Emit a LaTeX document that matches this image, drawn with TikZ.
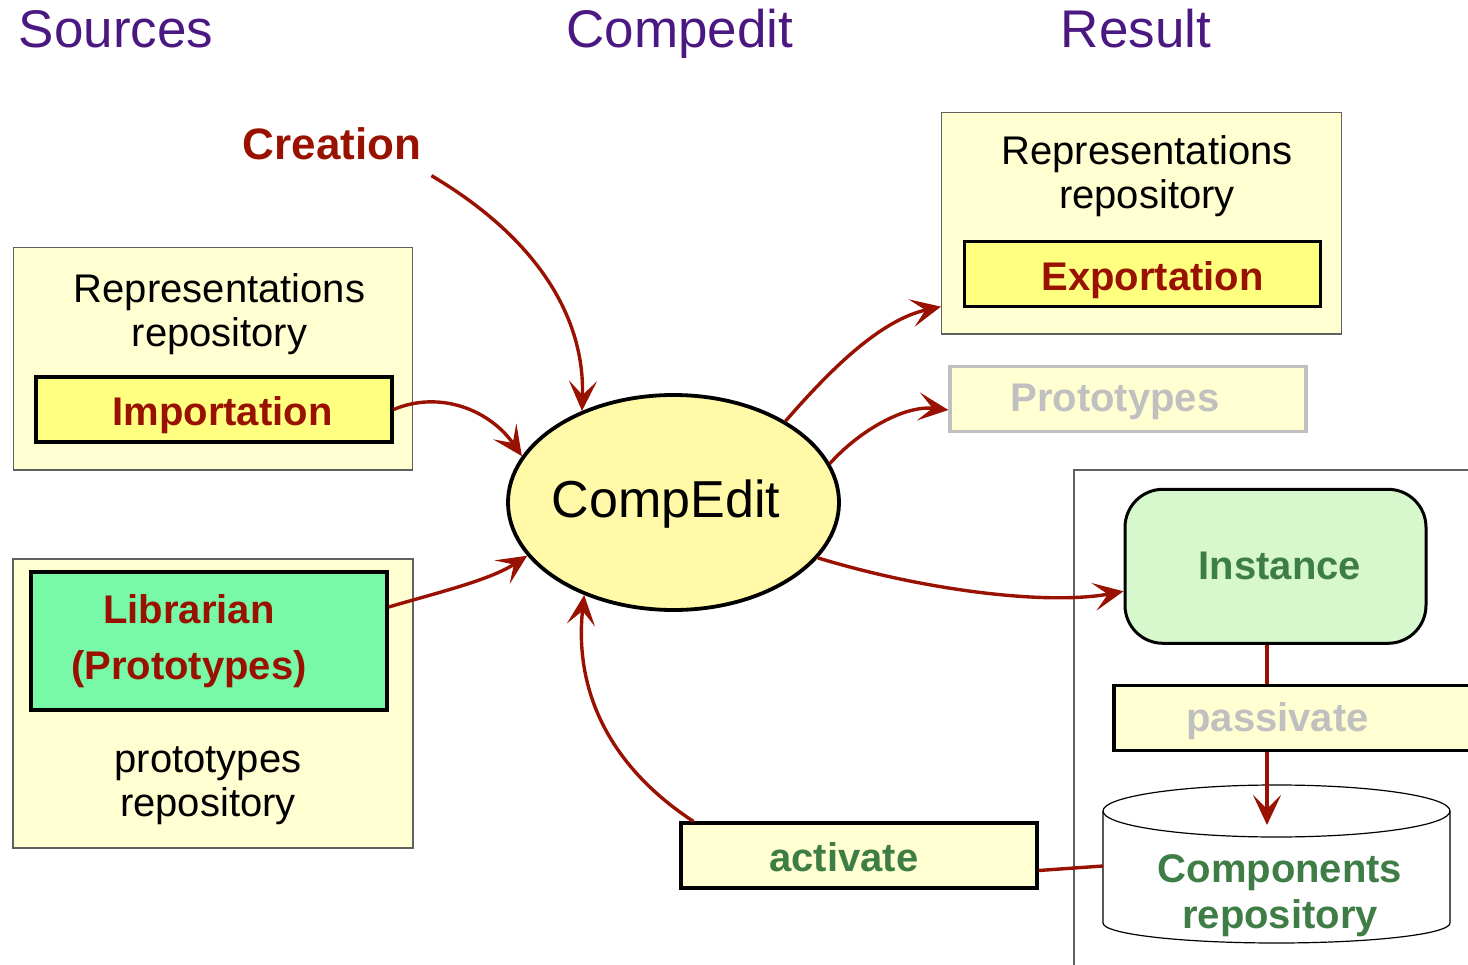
\documentclass[tikz,border=0pt]{standalone}
\usepackage{fontspec}
\setmainfont{Liberation Sans}
\usetikzlibrary{arrows.meta,shapes.geometric}
\definecolor{darkred}{HTML}{991100}
\definecolor{titlepurple}{HTML}{4B1882}
\definecolor{paleyellow}{HTML}{FFFFD2}
\definecolor{importyellow}{HTML}{FFFF80}
\definecolor{libgreen}{HTML}{77F9A7}
\definecolor{instgreen}{HTML}{D6F8CC}
\definecolor{greentext}{HTML}{3E7D45}
\definecolor{graytext}{HTML}{C0C0C0}
\definecolor{ellfill}{HTML}{FFF9A8}
\definecolor{framegray}{HTML}{606060}
\begin{document}
\begin{tikzpicture}[x=1pt,y=-1pt,
  bigbox/.style={draw=framegray, line width=1.4pt, fill=paleyellow, inner sep=0pt},
  innerbox/.style={draw=black, line width=3.3pt, inner sep=0pt, minimum width=356pt, minimum height=65pt},
  lbl/.style={inner sep=0pt, font=\fontsize{40}{44}\selectfont, align=center},
  blbl/.style={inner sep=0pt, font=\fontsize{40}{44}\selectfont\bfseries, align=center},
  ttl/.style={inner sep=0pt, font=\fontsize{53}{60}\selectfont, text=titlepurple, anchor=base},
  conn/.style={draw=darkred, line width=3.4pt},
  arr/.style={conn, -{Stealth[length=30pt,width=28pt,inset=14pt]}}
]
\useasboundingbox (0,0) rectangle (1468,965);

% titles
\node[ttl] (tsrc) at (116,48) {Sources};
\node[ttl] (tcmp) at (680,48) {Compedit};
\node[ttl] (tres) at (1136,48) {Result};

% creation
\node[blbl, text=darkred, font=\fontsize{44}{48}\selectfont\bfseries, anchor=base] (cre) at (332,160) {Creation};

% left top box
\node[bigbox, minimum width=399.4pt, minimum height=222.7pt] (lrep) at (213,358.7) {};
\node[lbl] (lreptxt) at (219.5,314) {Representations\\repository};
\node[innerbox, fill=importyellow] (imp) at (214,409.5) {};
\node[blbl, text=darkred, anchor=base] (imptxt) at (222.5,426) {Importation};

% left bottom box
\node[bigbox, minimum width=400pt, minimum height=289pt] (lprot) at (213,703.5) {};
\node[innerbox, fill=libgreen, minimum height=138pt] (lib) at (209,641) {};
\node[blbl, text=darkred, font=\fontsize{40}{56}\selectfont\bfseries] (libtxt) at (189,641) {Librarian\\(Prototypes)};
\node[lbl] (lprottxt) at (208,786) {prototypes\\repository};

% right top box
\node[bigbox, minimum width=400pt, minimum height=221.3pt] (rrep) at (1141.7,223.3) {};
\node[lbl] (rreptxt) at (1147,176) {Representations\\repository};
\node[innerbox, fill=importyellow] (exp) at (1142.5,274) {};
\node[blbl, text=darkred, anchor=base] (exptxt) at (1152.5,291) {Exportation};

% prototypes (grey)
\node[innerbox, draw=graytext, fill=paleyellow] (proto) at (1128,399) {};
\node[blbl, text=graytext, anchor=base] (prototxt) at (1115,412) {Prototypes};

% right frame
\draw[framegray, line width=1.2pt] (1074,965) -- (1074,470) -- (1468,470);

% instance
\node[draw=black, line width=3pt, fill=instgreen, rounded corners=38pt, minimum width=301pt, minimum height=154pt, inner sep=0pt] (inst) at (1275.5,566.3) {};
\node[blbl, text=greentext, anchor=base] (insttxt) at (1280,579) {Instance};

% cylinder
\draw[line width=1.2pt, fill=white] (1103,811) -- (1103,923) arc[start angle=180, end angle=0, x radius=173.5, y radius=20] -- (1450,811) arc[start angle=0, end angle=-180, x radius=173.5, y radius=26] -- cycle;
\draw[line width=1.2pt] (1103,811) arc[start angle=180, end angle=0, x radius=173.5, y radius=26];
\coordinate (cyltop) at (1267,825);
\coordinate (cylleft) at (1103,866);
\node[blbl, text=greentext, font=\fontsize{40}{46}\selectfont\bfseries] (cyltxt) at (1280,896) {Components\\repository};

% instance -> cylinder (behind passivate)
\draw[arr, line width=3.8pt] ([xshift=-8.5pt]inst.south) -- (cyltop);

% passivate
\node[innerbox, fill=paleyellow, minimum width=366pt] (pas) at (1297,718) {};
\node[blbl, text=graytext, anchor=base] (pastxt) at (1277.5,731) {passivate};

% activate
\node[innerbox, fill=paleyellow] (act) at (859,855.5) {};
\node[blbl, text=greentext, anchor=base] (acttxt) at (844,871) {activate};

% CompEdit ellipse
\node[ellipse, draw=black, line width=3.8pt, fill=ellfill, minimum width=331pt, minimum height=215pt, inner sep=0pt] (ce) at (673.5,502.5) {};
\node[inner sep=0pt, font=\fontsize{52}{60}\selectfont, anchor=base] (cetxt) at (666,518) {CompEdit};

% connectors
\draw[arr] ([shift={(10,15)}]cre.south east) .. controls (540,240) and (585,320) .. (ce.135);
\draw[arr] (imp.east) .. controls (440,390) and (490,410) .. (ce.163);
\draw[arr] ([yshift=34pt]lib.east) .. controls (440,592) and (490,580) .. (ce.200);
\draw[arr] (ce.36) .. controls (830,370) and (880,320) .. ([yshift=28pt]rrep.south west);
\draw[arr] (ce.14) .. controls (860,430) and (905,405) .. ([yshift=-11pt]proto.west);
\draw[arr] (ce.-21) .. controls (930,592) and (1050,605) .. ([yshift=-25pt]inst.west);
\draw[conn] ([yshift=-15pt]act.east) -- (cylleft);
\draw[arr] ([xshift=14pt]act.north west) .. controls (600,760) and (575,680) .. (ce.226);
\end{tikzpicture}
\end{document}
